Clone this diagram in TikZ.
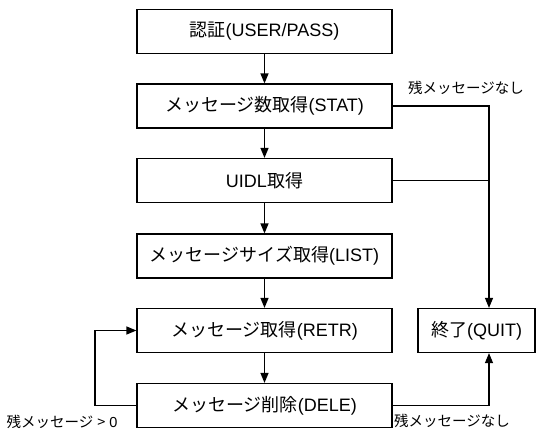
\documentclass[tikz,border=0pt]{standalone}
\usepackage{fontspec}
\setmainfont{Liberation Sans}
\newfontfamily\jp{Noto Sans CJK JP}
\usetikzlibrary{arrows.meta}
\begin{document}
\begin{tikzpicture}[x=1pt,y=-1pt,
  box/.style={draw, line width=1.2pt, minimum width=255pt, minimum height=44pt, inner sep=0pt, font=\fontsize{18}{21}\selectfont},
  lbl/.style={inner sep=0pt, font=\fontsize{14.5}{17}\selectfont},
  ln/.style={line width=1.2pt},
  arr/.style={line width=1.2pt, -{Triangle[length=10pt,width=8pt]}}]
\useasboundingbox (0,0) rectangle (547,432);
\node[box] (b1) at (264.5,31.5) {{\jp 認証}(USER/PASS)};
\node[box] (b2) at (264.5,106) {{\jp メッセージ数取得}(STAT)};
\node[box] (b3) at (264.5,180.5) {UIDL{\jp 取得}};
\node[box] (b4) at (264.5,256) {{\jp メッセージサイズ取得}(LIST)};
\node[box] (b5) at (264.5,330.5) {{\jp メッセージ取得}(RETR)};
\node[box] (b6) at (264.5,405.5) {{\jp メッセージ削除}(DELE)};
\node[box, minimum width=117pt] (q) at (476.5,330.5) {{\jp 終了}(QUIT)};
\coordinate (vx) at (489,0);
\coordinate (lx) at (95,0);
\node[lbl] (t1) at (466,88) {{\jp 残メッセージなし}};
\node[lbl] (t2) at (452,421) {{\jp 残メッセージなし}};
\node[lbl] (t3) at (62,422) {{\jp 残メッセージ} {\jp >} 0};
\draw[arr] (b1) -- (b2);
\draw[arr] (b2) -- (b3);
\draw[arr] (b3) -- (b4);
\draw[arr] (b4) -- (b5);
\draw[arr] (b5) -- (b6);
\draw[ln] (b3.east) -- (b3.east -| vx);
\draw[arr] (b2.east) -- (b2.east -| vx) -- (q.north -| vx);
\draw[arr] (b6.east) -- (b6.east -| vx) -- (q.south -| vx);
\draw[arr] (b6.west) -- (b6.west -| lx) -- (b5.west -| lx) -- (b5.west);
\end{tikzpicture}
\end{document}
